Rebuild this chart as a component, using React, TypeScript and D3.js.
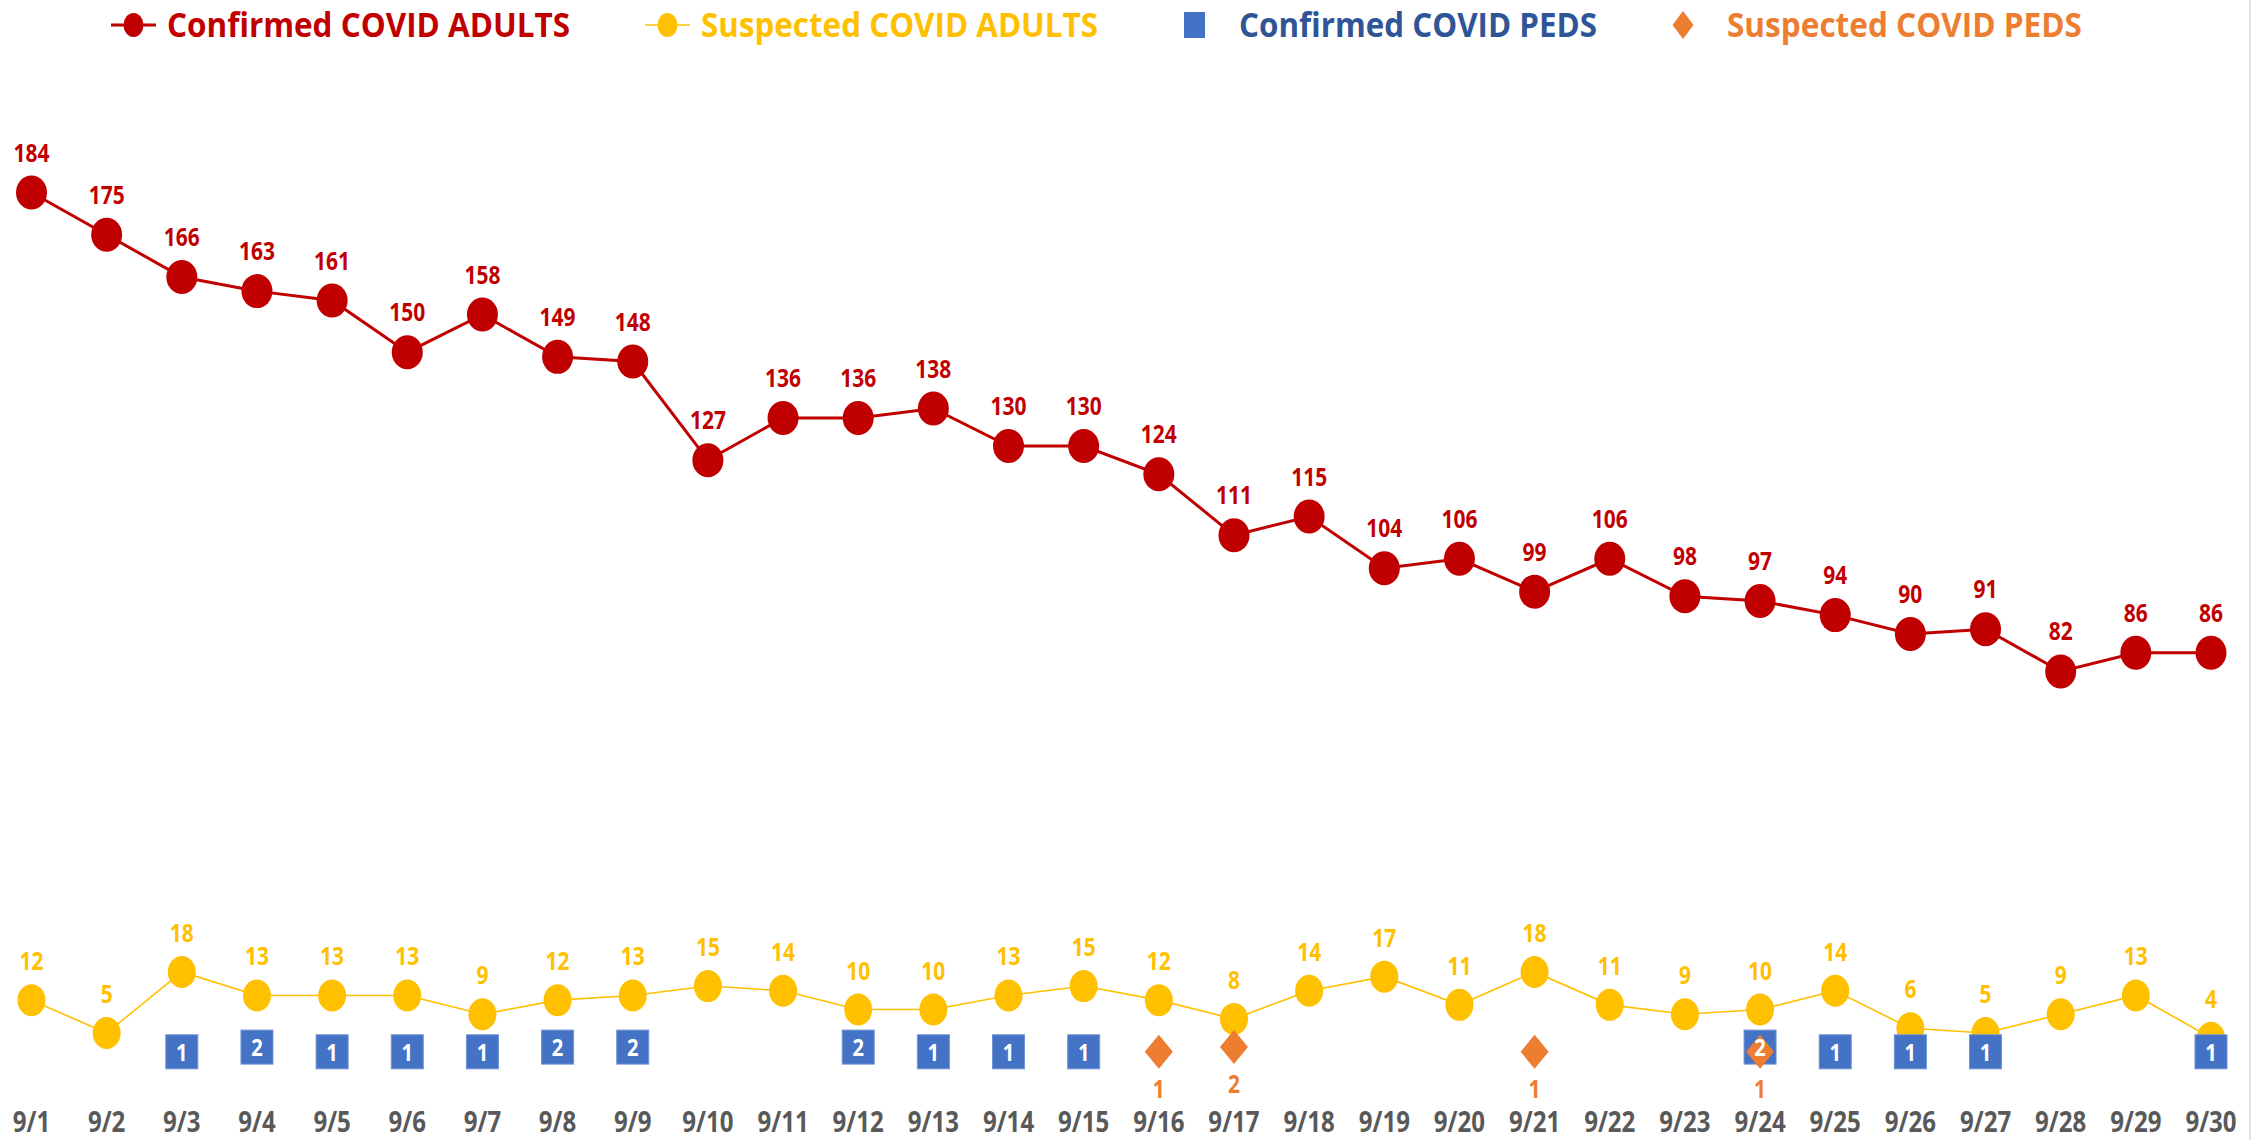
import React from 'react';
import * as d3 from 'd3';

const DATES = Array.from({ length: 30 }, (_, i) => `9/${i + 1}`);
const CONFIRMED_ADULTS = [184, 175, 166, 163, 161, 150, 158, 149, 148, 127, 136, 136, 138, 130, 130, 124, 111, 115, 104, 106, 99, 106, 98, 97, 94, 90, 91, 82, 86, 86];
const SUSPECTED_ADULTS = [12, 5, 18, 13, 13, 13, 9, 12, 13, 15, 14, 10, 10, 13, 15, 12, 8, 14, 17, 11, 18, 11, 9, 10, 14, 6, 5, 9, 13, 4];
// null = no value that day
const CONFIRMED_PEDS: (number | null)[] = [null, null, 1, 2, 1, 1, 1, 2, 2, null, null, 2, 1, 1, 1, null, null, null, null, null, null, null, null, 2, 1, 1, 1, null, null, 1];
const SUSPECTED_PEDS: (number | null)[] = [null, null, null, null, null, null, null, null, null, null, null, null, null, null, null, 1, 2, null, null, null, 1, null, null, 1, null, null, null, null, null, null];

const LEGEND = [
  { label: 'Confirmed COVID ADULTS', color: '#C00000', text: '#C00000', kind: 'line-circle', x: 111, len: 403 },
  { label: 'Suspected COVID ADULTS', color: '#FFC000', text: '#FFC000', kind: 'line-circle', x: 645, len: 397 },
  { label: 'Confirmed COVID PEDS', color: '#4472C4', text: '#2F5597', kind: 'square', x: 1183, len: 358 },
  { label: 'Suspected COVID PEDS', color: '#ED7D31', text: '#ED7D31', kind: 'diamond', x: 1671, len: 355 },
];

const W = 2263;
const H = 1140;
const FONT = '"Open Sans", Lato, sans-serif';

// narrowed bold text, the source font is a condensed one
const Label = ({ x, y, size, fill, sx = 0.84, children }: any) => (
  <text transform={`translate(${x},${y}) scale(${sx},1)`} fontSize={size} fill={fill} textAnchor="middle">{children}</text>
);

const App = () => {
  const x = d3.scalePoint<string>().domain(DATES).range([31.5, 2211]);
  const y = d3.scaleLinear().domain([0, 225]).range([1056.5, 0]);

  const line = d3.line<number>().x((_, i) => x(DATES[i])!).y(d => y(d));
  const pedsIdx = (arr: (number | null)[]) => arr.map((v, i) => ({ v, i })).filter(d => d.v !== null) as { v: number; i: number }[];
  const diamond = (cx: number, cy: number, w: number, h: number) =>
    `M${cx},${cy - h / 2}L${cx + w / 2},${cy}L${cx},${cy + h / 2}L${cx - w / 2},${cy}Z`;

  return (
    <svg width={W} height={H} style={{ position: 'absolute', left: 0, top: 0, background: '#fff' }} fontFamily={FONT} fontWeight="bold">
      <line x1={2250} x2={2250} y1={0} y2={H} stroke="#d9d9d9" strokeWidth={1.5} />

      {/* legend */}
      {LEGEND.map(l => (
        <g key={l.label}>
          {l.kind === 'line-circle' && (
            <>
              <line x1={l.x} x2={l.x + 45} y1={25} y2={25} stroke={l.color} strokeWidth={l.color === '#C00000' ? 3 : 1.5} />
              <ellipse cx={l.x + 22.5} cy={25} rx={10} ry={12} fill={l.color} />
            </>
          )}
          {l.kind === 'square' && <rect x={l.x + 1} y={12} width={21} height={26} fill={l.color} />}
          {l.kind === 'diamond' && <path d={diamond(l.x + 12, 25, 21, 28)} fill={l.color} />}
          <text x={l.x + 56} y={37} fontSize={34} fill={l.text} textLength={l.len} lengthAdjust="spacingAndGlyphs">{l.label}</text>
        </g>
      ))}

      {/* confirmed adults */}
      <path d={line(CONFIRMED_ADULTS) ?? ''} fill="none" stroke="#C00000" strokeWidth={3} />
      {CONFIRMED_ADULTS.map((v, i) => (
        <ellipse key={`ca${i}`} cx={x(DATES[i])} cy={y(v)} rx={15.5} ry={17} fill="#C00000" />
      ))}

      {/* suspected adults */}
      <path d={line(SUSPECTED_ADULTS) ?? ''} fill="none" stroke="#FFC000" strokeWidth={1.6} />
      {SUSPECTED_ADULTS.map((v, i) => (
        <ellipse key={`sa${i}`} cx={x(DATES[i])} cy={y(v)} rx={14} ry={16} fill="#FFC000" />
      ))}

      {/* confirmed peds */}
      {pedsIdx(CONFIRMED_PEDS).map(d => (
        <rect key={`cp${d.i}`} x={x(DATES[d.i])! - 16} y={y(d.v) - 17} width={32} height={34} fill="#4472C4" stroke="#6f93d3" strokeWidth={1} />
      ))}

      {/* suspected peds */}
      {pedsIdx(SUSPECTED_PEDS).map(d => (
        <path key={`sp${d.i}`} d={diamond(x(DATES[d.i])!, y(d.v), 28, 34)} fill="#ED7D31" />
      ))}

      {/* data labels */}
      {CONFIRMED_ADULTS.map((v, i) => (
        <Label key={`lca${i}`} x={x(DATES[i])} y={y(v) - 31} size={25} fill="#C00000">{v}</Label>
      ))}
      {SUSPECTED_ADULTS.map((v, i) => (
        <Label key={`lsa${i}`} x={x(DATES[i])} y={y(v) - 30} size={25} fill="#FFC000">{v}</Label>
      ))}
      {pedsIdx(CONFIRMED_PEDS).map(d => (
        <Label key={`lcp${d.i}`} x={x(DATES[d.i])} y={y(d.v) + 9} size={24} fill="#fff">{d.v}</Label>
      ))}
      {pedsIdx(SUSPECTED_PEDS).map(d => (
        <Label key={`lsp${d.i}`} x={x(DATES[d.i])} y={y(d.v) + 46} size={25} fill="#ED7D31">{d.v}</Label>
      ))}

      {/* x axis labels */}
      {DATES.map(dt => (
        <Label key={dt} x={x(dt)} y={1132} size={28} fill="#595959" sx={0.86}>{dt}</Label>
      ))}
    </svg>
  );
};

export default App;
